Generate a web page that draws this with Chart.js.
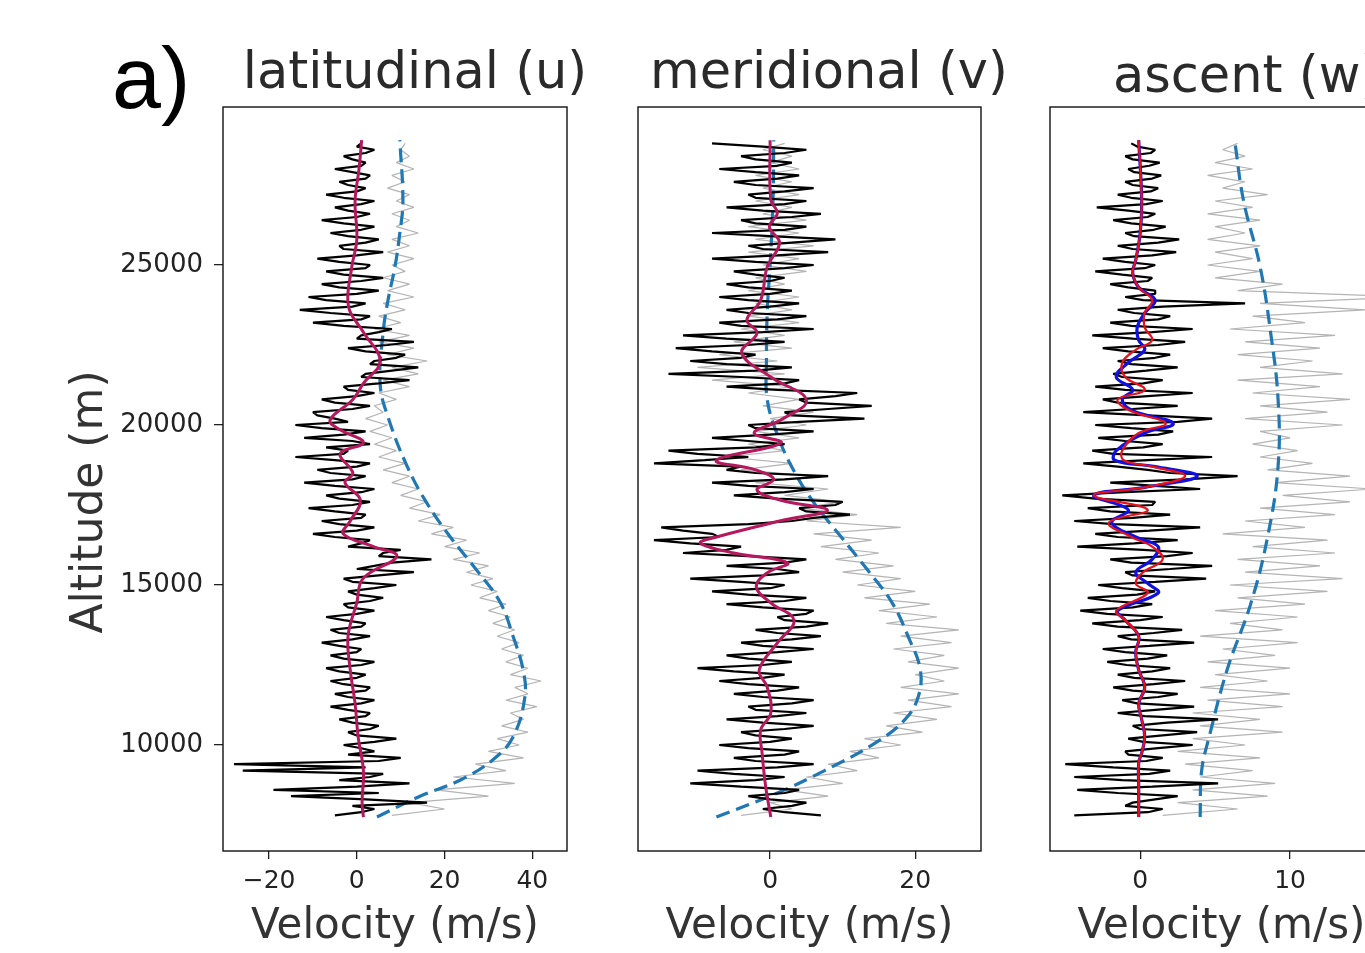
<!DOCTYPE html>
<html>
<head>
<meta charset="utf-8">
<title>Velocity profiles</title>
<script src="https://cdn.jsdelivr.net/npm/chart.js@4.4.1/dist/chart.umd.min.js"></script>
<style>
  html, body { margin: 0; padding: 0; background: #fff; overflow: hidden; }
  #wrap { position: relative; width: 1365px; height: 953px; overflow: hidden; }
  canvas { position: absolute; top: 0; }
</style>
</head>
<body>
<div id="wrap">
  <canvas id="panelU" width="600" height="953" style="left:0px"></canvas>
  <canvas id="panelV" width="410" height="953" style="left:600px"></canvas>
  <canvas id="panelW" width="400" height="953" style="left:1010px"></canvas>
</div>
<script>
// altitude samples (m) for the perturbation profiles, bottom to top
const pertAltitudes = [
  7800, 7900, 8000, 8100, 8200, 8300, 8400, 8500, 8600, 8700,
  8800, 8900, 9000, 9100, 9200, 9300, 9400, 9500, 9600, 9700,
  9800, 9900, 10000, 10100, 10200, 10300, 10400, 10500, 10600, 10700,
  10800, 10900, 11000, 11100, 11200, 11300, 11400, 11500, 11600, 11700,
  11800, 11900, 12000, 12100, 12200, 12300, 12400, 12500, 12600, 12700,
  12800, 12900, 13000, 13100, 13200, 13300, 13400, 13500, 13600, 13700,
  13800, 13900, 14000, 14100, 14200, 14300, 14400, 14500, 14600, 14700,
  14800, 14900, 15000, 15100, 15200, 15300, 15400, 15500, 15600, 15700,
  15800, 15900, 16000, 16100, 16200, 16300, 16400, 16500, 16600, 16700,
  16800, 16900, 17000, 17100, 17200, 17300, 17400, 17500, 17600, 17700,
  17800, 17900, 18000, 18100, 18200, 18300, 18400, 18500, 18600, 18700,
  18800, 18900, 19000, 19100, 19200, 19300, 19400, 19500, 19600, 19700,
  19800, 19900, 20000, 20100, 20200, 20300, 20400, 20500, 20600, 20700,
  20800, 20900, 21000, 21100, 21200, 21300, 21400, 21500, 21600, 21700,
  21800, 21900, 22000, 22100, 22200, 22300, 22400, 22500, 22600, 22700,
  22800, 22900, 23000, 23100, 23200, 23300, 23400, 23500, 23600, 23700,
  23800, 23900, 24000, 24100, 24200, 24300, 24400, 24500, 24600, 24700,
  24800, 24900, 25000, 25100, 25200, 25300, 25400, 25500, 25600, 25700,
  25800, 25900, 26000, 26100, 26200, 26300, 26400, 26500, 26600, 26700,
  26800, 26900, 27000, 27100, 27200, 27300, 27400, 27500, 27600, 27700,
  27800, 27900, 28000, 28100, 28200, 28300, 28400, 28500, 28600, 28700,
  28800
];

// altitude samples (m) for the raw wind profiles
const rawAltitudes = [
  7800, 8000, 8200, 8400, 8600, 8800, 9000, 9200, 9400, 9600,
  9800, 10000, 10200, 10400, 10600, 10800, 11000, 11200, 11400, 11600,
  11800, 12000, 12200, 12400, 12600, 12800, 13000, 13200, 13400, 13600,
  13800, 14000, 14200, 14400, 14600, 14800, 15000, 15200, 15400, 15600,
  15800, 16000, 16200, 16400, 16600, 16800, 17000, 17200, 17400, 17600,
  17800, 18000, 18200, 18400, 18600, 18800, 19000, 19200, 19400, 19600,
  19800, 20000, 20200, 20400, 20600, 20800, 21000, 21200, 21400, 21600,
  21800, 22000, 22200, 22400, 22600, 22800, 23000, 23200, 23400, 23600,
  23800, 24000, 24200, 24400, 24600, 24800, 25000, 25200, 25400, 25600,
  25800, 26000, 26200, 26400, 26600, 26800, 27000, 27200, 27400, 27600,
  27800, 28000, 28200, 28400, 28600, 28800
];

// latitudinal (u): perturbation (black) and raw wind (grey)
const uPert = [
  -5, 1, 4, -1, 16, 2, -15, 5, -19, 0,
  12, -4, 3, 6, -26, 2, -28, 5, 10, -2,
  4, 1, -3, 4, 9, 0, -2, 3, 5, -1,
  -4, 2, 3, -2, -6, 1, 4, -2, -5, 2,
  3, -3, -6, 0, 2, -4, -7, 1, 4, -3,
  -6, 0, 1, -4, -8, -1, 3, -4, -6, 1,
  2, -3, -7, 0, 4, -2, -3, 3, 6, 0,
  -2, 4, 9, -1, -3, 5, 13, 0, 4, 8,
  17, 5, 6, 10, -2, 1, 3, -5, -10, 0,
  4, -4, -8, 1, 2, -5, -11, -1, 3, -4,
  -7, 1, 4, -5, -12, -1, 2, -6, -9, 0,
  3, -5, -14, -3, -2, -7, 3, -1, -12, -3,
  2, -8, -14, -2, -5, -9, -10, -1, 3, -5,
  -8, 0, 4, -2, -3, 5, 12, 1, 2, 8,
  14, 3, 4, 9, 11, 2, -2, 7, 13, 0,
  1, 5, 8, -3, -10, 1, 3, -6, -13, -1,
  2, -7, -11, 0, 5, -4, -8, 1, 6, -3,
  -7, 2, 3, -4, -9, 0, 6, -3, -4, 2,
  5, -2, -6, 1, 4, -3, -8, 0, 3, -2,
  -5, 1, 4, -3, -7, 0, 2, -2, -4, 2,
  3, -1, -5, 1, 2, -1, -3, 2, 4, 0,
  1
];
const uRaw = [
  8, 20, 12, 30, 18, 36, 22, 34, 27, 38,
  30, 37, 32, 39, 33, 38, 35, 41, 34, 39,
  36, 42, 35, 39, 34, 38, 33, 37, 32, 36,
  31, 35, 30, 34, 28, 32, 26, 31, 25, 30,
  22, 28, 20, 25, 17, 22, 14, 19, 12, 16,
  10, 14, 8, 12, 6, 11, 5, 9, 4, 8,
  3, 7, 2, 6, 4, 9, 5, 12, 6, 14,
  8, 16, 7, 13, 5, 12, 4, 10, 5, 11,
  6, 13, 7, 12, 6, 11, 8, 13, 7, 12,
  8, 14, 9, 12, 8, 13, 9, 12, 7, 11,
  8, 13, 9, 12, 10, 11
];

// meridional (v)
const vPert = [
  7, 2, -1, 3, 5, 0, -3, 2, 4, -4,
  -11, -2, 2, -5, -10, 1, 6, -2, -5, 2,
  4, -3, -7, 0, 3, -2, -4, 2, 6, -1,
  -6, 1, 5, -2, -3, 3, 6, -1, -5, 1,
  4, -3, -7, -1, 2, -5, -10, -1, 3, -3,
  -6, 1, 6, -1, -4, 3, 7, 1, -2, 5,
  8, 2, 1, 5, 6, -1, -6, 2, 5, -3,
  -8, 0, 2, -4, -11, -1, 4, 1, -6, 2,
  5, -3, -12, -6, -4, -11, -16, -7, -8, -12,
  -15, -3, 3, 6, 11, 5, 4, 9, 10, 1,
  -5, 2, 6, -3, -8, 2, 8, -2, -6, -4,
  -16, -9, -3, -10, -14, -2, 2, -3, -8, 0,
  6, -2, -3, 4, 13, 3, 2, 8, 14, 5,
  4, 9, 12, 1, -6, 2, 4, -4, -14, -2,
  3, -6, -11, -4, -2, -8, -13, -3, 2, -6,
  -12, -1, 6, -4, -7, 1, 5, -3, -6, 0,
  4, -3, -7, 0, 3, -3, -6, 0, 2, -2,
  -5, 2, 6, -2, -8, 1, 8, -1, -3, 3,
  9, 0, -8, 2, 5, -2, -4, 3, 7, -1,
  -6, 2, 5, -2, -3, 2, 6, -2, -5, 1,
  4, -2, -7, 1, 3, -2, -4, 2, 5, -1,
  -8
];
const vRaw = [
  -4, 3, 0, 8, 2, 10, 5, 12, 8, 15,
  11, 18, 13, 21, 16, 23, 17, 25, 19, 26,
  18, 24, 20, 26, 19, 24, 17, 25, 18, 26,
  16, 23, 15, 22, 13, 20, 12, 18, 10, 17,
  9, 15, 7, 14, 6, 18, 5, 12, 4, 10,
  2, 8, -2, 6, -4, 3, -6, 2, -3, 4,
  -2, 5, 0, 6, -1, 4, -3, 3, -8, 2,
  -10, 1, -7, 3, -5, 2, -4, 4, -3, 3,
  -2, 4, -3, 2, -2, 5, -1, 4, -3, 6,
  -2, 4, -3, 5, -1, 3, -2, 4, -1, 3,
  -2, 4, 0, 3, -1, 2
];

// ascent (w)
const wPert = [
  -4.4, 0.5, 1.5, -1.0, -0.5, 1.0, 2.5, -1.5, -4.2, 0.8,
  5.2, -1.2, -4.4, 0.6, 2.0, -1.8, -5.0, 0.4, 1.5, -0.8,
  -1.0, 1.2, 3.5, 0.2, -0.8, 1.5, 3.8, 0.0, -0.5, 1.8,
  5.2, 0.3, -1.5, 1.0, 3.6, -0.2, -1.2, 1.2, 2.5, -0.5,
  -1.8, 0.9, 3.0, -0.4, -1.5, 0.8, 2.0, -0.9, -2.2, 0.5,
  1.8, -1.0, -2.5, 0.6, 3.6, -0.6, -1.5, 0.9, 2.8, -1.5,
  -3.2, 0.0, 1.5, -2.2, -4.0, -0.5, 0.8, -2.0, -3.5, -0.2,
  1.0, -1.2, -2.8, 1.0, 4.4, -0.5, -1.0, 2.0, 4.8, -0.6,
  -2.0, 1.8, 3.5, 0.2, -4.2, -0.4, 2.5, -1.5, -3.0, 0.6,
  4.0, -1.8, -4.4, -0.5, 2.0, -2.0, -3.5, 0.8, 1.0, -3.0,
  -5.2, -1.0, 4.0, 1.0, -2.0, 3.0, 6.5, 2.0, 0.5, -1.5,
  -3.8, 0.5, 4.8, -1.8, -3.2, 0.2, 1.5, -1.0, -2.8, 1.2,
  2.2, -0.6, -3.0, 2.5, 4.8, 0.5, -3.8, -0.5, 2.5, -1.5,
  -2.5, 0.5, 3.5, -1.0, -3.0, 0.2, 1.5, -1.2, -1.8, 0.4,
  2.5, -0.6, -1.5, 1.0, 2.0, -0.8, -2.5, 1.2, 3.0, -0.5,
  -3.2, 0.8, 3.5, -0.6, -2.0, 1.2, 2.0, -0.4, -1.5, 1.5,
  7.0, 0.2, -1.0, 1.0, 1.0, -0.8, -2.0, 0.5, 0.8, -1.2,
  -3.0, 0.3, 1.0, -1.0, -2.5, 0.8, 2.4, -0.5, -1.5, 1.2,
  2.6, -0.4, -1.0, 0.9, 1.7, -0.6, -1.8, 0.5, 1.0, -0.8,
  -2.9, 0.4, 1.5, -0.6, -1.5, 0.7, 1.2, -0.5, -1.0, 0.8,
  1.4, -0.4, -0.8, 0.6, 1.3, -0.5, -1.0, 0.7, 1.0, -0.2,
  -0.6
];
const wRaw = [
  1.5, 6.5, 2.5, 8.5, 3.5, 9.0, 4.0, 7.5, 3.0, 8.0,
  2.5, 7.0, 3.5, 9.5, 4.0, 8.0, 3.5, 9.5, 4.5, 10.0,
  4.0, 8.5, 5.0, 10.0, 4.5, 9.0, 5.5, 10.5, 4.0, 9.5,
  6.0, 10.5, 5.0, 11.0, 6.5, 12.5, 6.0, 13.5, 7.0, 12.0,
  6.5, 13.0, 7.5, 12.5, 5.5, 11.0, 7.0, 13.0, 8.0, 14.0,
  9.5, 15.5, 9.0, 14.0, 8.5, 11.5, 8.0, 10.5, 7.5, 10.0,
  8.0, 13.5, 7.0, 12.5, 8.0, 14.0, 7.5, 12.0, 6.5, 13.5,
  8.0, 11.5, 6.5, 12.0, 7.0, 13.0, 6.0, 11.0, 7.5, 15.0,
  8.0, 18.0, 6.5, 9.5, 5.0, 8.0, 4.5, 7.5, 5.0, 8.0,
  4.5, 7.0, 5.0, 8.0, 4.5, 7.5, 5.0, 8.5, 5.5, 7.0,
  4.5, 7.5, 5.0, 7.0, 5.5, 6.5
];

// smoothed perturbation profiles
const uSmoothAlt = [7750, 8200, 9200, 10250, 11300, 12350, 13400, 14450, 15200, 15900,
  16200, 16600, 17000, 17650, 18200, 18500, 19100, 19450, 19850, 20150,
  20800, 21300, 22000, 22900, 23700, 24900, 25800, 27000, 28000, 28900];
const uSmooth = [1.5, 1.2, 1.5, 0.3, -0.4, -1.5, -2.0, 0.0, 1.4, 9.1,
  3.8, -3.1, -1.5, 0.8, -2.7, -0.9, -3.8, 1.5, -3.8, -6.1,
  -0.9, 1.5, 5.3, 1.5, -1.9, -1.2, 0.0, -0.4, 0.5, 1.1];

const vSmoothAlt = [7750, 8690, 9750, 10470, 11000, 11810, 12340, 13190, 13900, 14440,
  14940, 15380, 15690, 16000, 16310, 16500, 17030, 17340, 17650, 17970,
  18300, 18600, 18900, 19440, 19750, 20160, 20780, 21500, 22250, 22875,
  23280, 23900, 24940, 25690, 26190, 26625, 27030, 28900];
const vSmooth = [0.1, -0.6, -1.1, -1.3, 0.1, -0.4, -1.5, 1.0, 3.3, 0.1,
  -1.9, -0.4, 2.4, -5.0, -9.6, -7.4, 1.9, 7.9, 1.5, -1.8,
  0.5, -2.0, -7.4, 1.5, -2.2, 1.5, 5.0, 0.1, -3.9, -1.8,
  -3.2, -1.3, -0.4, 1.3, -0.1, 1.0, 0.1, 0.0];

const wSmoothAlt = [7750, 8700, 9450, 9750, 10250, 10800, 11300, 11800, 12350, 12900,
  13400, 13900, 14200, 14750, 15050, 15400, 15800, 16200, 16500, 16950,
  17350, 17800, 18050, 18400, 18700, 18900, 19200, 19750, 20050, 20450,
  20800, 21100, 21500, 21950, 22350, 22650, 23050, 23500, 23900, 24300,
  24750, 25150, 26000, 27000, 28900];
const wSmoothBlue = [-0.1, -0.1, -0.1, 0.1, 0.3, 0.1, -0.1, 0.3, -0.1, -0.3,
  -0.1, -1.0, -1.5, 1.2, 0.5, -0.3, 0.8, 1.2, -0.3, -1.9,
  -0.8, -3.1, 0.3, 3.8, 1.0, -1.7, -1.6, 0.3, 2.2, -0.5,
  -1.2, -0.5, -1.6, -0.8, 0.3, -0.1, -0.2, 0.3, 1.0, -0.1,
  -0.5, -0.3, 0.0, 0.1, -0.1];
const wSmoothRed = [-0.1, -0.1, -0.1, 0.1, 0.3, 0.1, -0.1, 0.3, -0.1, -0.3,
  -0.1, -1.0, -1.6, 0.5, -0.3, 0.2, 1.5, 0.8, -0.6, -2.1,
  0.5, -3.1, 0.3, 3.0, 0.8, -1.1, -1.2, -0.1, 1.7, -0.7,
  -1.5, 0.3, -1.0, -1.2, -0.3, 0.8, 0.3, 0.3, 0.8, -0.1,
  -0.5, -0.3, 0.0, 0.1, -0.1];

// background wind trends (dashed)
const uTrendAlt = [7750, 8400, 8900, 9550, 10250, 11500, 12350, 13400, 14450, 15450,
  16500, 17550, 18700, 20250, 21300, 22900, 23900, 24950, 26000, 27000, 28900];
const uTrend = [4.6, 14.4, 23.5, 31.1, 35.6, 38.3, 37.9, 35.6, 32.7, 27.4,
  21.3, 16.0, 11.5, 7.1, 5.3, 6.0, 7.1, 8.7, 9.8, 10.5, 9.8];

const vTrendAlt = [7750, 8500, 9200, 10050, 10800, 11500, 12350, 13400, 14450, 15450,
  16500, 17550, 18600, 19700, 20800, 22000, 23500, 25000, 27000, 28900];
const vTrend = [-7.4, 1.0, 7.5, 14.4, 18.6, 20.4, 20.7, 19.0, 16.8, 13.5,
  9.8, 6.1, 3.2, 1.0, -0.4, -0.5, -0.4, 0.0, 0.4, 0.5];

const wTrendAlt = [7750, 9200, 10250, 12350, 14450, 16500, 18700, 20800, 22900, 24950, 27000, 28900];
const wTrend = [4.0, 4.1, 4.6, 5.8, 7.4, 8.5, 9.2, 9.2, 8.7, 8.0, 6.9, 6.3];

const altTicks = [10000, 15000, 20000, 25000];
const FONT = 'DejaVu Sans';
const Y_MIN = 6688, Y_MAX = 29937;

function pts(alts, vals) {
  return vals.map((v, i) => ({ x: v, y: alts[i] }));
}

function rawLine(alts, vals, color, width) {
  return { data: pts(alts, vals), showLine: true, pointRadius: 0, borderColor: color,
    borderWidth: width, borderJoinStyle: 'bevel', tension: 0, fill: false };
}
function smoothLine(alts, vals, color, width, dash) {
  return { data: pts(alts, vals), showLine: true, pointRadius: 0, borderColor: color,
    borderWidth: width, tension: 0.4, borderDash: dash || [], fill: false };
}

// black frame round the plot area
const framePlugin = {
  id: 'frame',
  afterDraw(chart) {
    const { ctx, chartArea: a } = chart;
    ctx.save();
    ctx.strokeStyle = '#111';
    ctx.lineWidth = 1.4;
    ctx.strokeRect(a.left, a.top, a.right - a.left, a.bottom - a.top);
    ctx.restore();
  }
};

// free text (panel titles, panel letter, y label)
const textPlugin = {
  id: 'textLabels',
  afterDraw(chart, args, opts) {
    const ctx = chart.ctx;
    (opts.items || []).forEach(t => {
      ctx.save();
      ctx.translate(t.x, t.y);
      if (t.rotate) ctx.rotate(t.rotate);
      ctx.font = t.font;
      ctx.fillStyle = t.color || '#2a2a2a';
      ctx.textAlign = t.align || 'center';
      ctx.textBaseline = t.baseline || 'alphabetic';
      ctx.fillText(t.text, 0, 0);
      ctx.restore();
    });
  }
};

function makeChart(id, cfg) {
  const yScale = cfg.showY ? {
    type: 'linear', min: Y_MIN, max: Y_MAX,
    afterBuildTicks: s => { s.ticks = altTicks.map(v => ({ value: v })); },
    afterFit: s => { s.width = cfg.yWidth; },
    ticks: { font: { family: FONT, size: 26 }, color: '#222', padding: 11,
      callback: v => String(v) },
    grid: { drawOnChartArea: false, tickLength: 9, color: '#222', lineWidth: 1.3 },
    border: { display: false }
  } : { type: 'linear', min: Y_MIN, max: Y_MAX, display: false };

  return new Chart(document.getElementById(id), {
    type: 'scatter',
    data: { datasets: cfg.datasets },
    options: {
      responsive: false,
      animation: false,
      events: [],
      layout: { padding: cfg.padding },
      plugins: {
        legend: { display: false },
        tooltip: { enabled: false },
        textLabels: { items: cfg.labels }
      },
      scales: {
        x: {
          type: 'linear', min: cfg.xMin, max: cfg.xMax,
          afterBuildTicks: s => { s.ticks = cfg.xTicks.map(v => ({ value: v })); },
          afterFit: s => { s.height = 102; },
          ticks: { font: { family: FONT, size: 25 }, color: '#222', padding: 7, maxRotation: 0,
            callback: v => v < 0 ? '\u2212' + Math.abs(v) : String(v) },
          grid: { drawOnChartArea: false, tickLength: 8, color: '#222', lineWidth: 1.3 },
          border: { display: false },
          title: { display: true, text: 'Velocity (m/s)', color: '#333',
            font: { family: FONT, size: 42 }, padding: { top: 0, bottom: 1 } }
        },
        y: yScale
      }
    },
    plugins: [framePlugin, textPlugin]
  });
}

const titleFont = '51px "' + FONT + '"';
const DASH = [14, 7];

makeChart('panelU', {
  padding: { top: 107, right: 33, bottom: 0, left: 0 },
  showY: true, yWidth: 223,
  xMin: -30.5, xMax: 47.9, xTicks: [-20, 0, 20, 40],
  labels: [
    { text: 'a)', x: 112, y: 108, align: 'left', font: '88px "Liberation Sans"', color: '#000' },
    { text: 'latitudinal (u)', x: 415, y: 88, font: titleFont },
    { text: 'Altitude (m)', x: 91, y: 502, rotate: -Math.PI / 2, baseline: 'middle',
      font: '44px "' + FONT + '"', color: '#333' }
  ],
  datasets: [
    smoothLine(uSmoothAlt, uSmooth, '#b5185c', 3),
    rawLine(pertAltitudes, uPert, '#000', 2.2),
    smoothLine(uTrendAlt, uTrend, '#1f77b4', 3.2, DASH),
    rawLine(rawAltitudes, uRaw, '#b4b4b4', 1.2)
  ]
});

makeChart('panelV', {
  padding: { top: 107, right: 29, bottom: 0, left: 38 },
  showY: false,
  xMin: -18.2, xMax: 29.06, xTicks: [0, 20],
  labels: [
    { text: 'meridional (v)', x: 229, y: 88, font: titleFont }
  ],
  datasets: [
    smoothLine(vSmoothAlt, vSmooth, '#b5185c', 3),
    rawLine(pertAltitudes, vPert, '#000', 2.2),
    smoothLine(vTrendAlt, vTrend, '#1f77b4', 3.2, DASH),
    rawLine(rawAltitudes, vRaw, '#b4b4b4', 1.2)
  ]
});

makeChart('panelW', {
  padding: { top: 107, right: 17, bottom: 0, left: 40 },
  showY: false,
  xMin: -6.02, xMax: 16.87, xTicks: [0, 10],
  labels: [
    { text: 'ascent (w)', x: 103, y: 92, align: 'left', font: titleFont }
  ],
  datasets: [
    smoothLine(wSmoothAlt, wSmoothRed, '#e8101a', 2.2),
    smoothLine(wSmoothAlt, wSmoothBlue, '#1010e0', 3.2),
    rawLine(pertAltitudes, wPert, '#000', 2.2),
    smoothLine(wTrendAlt, wTrend, '#1f77b4', 3.2, DASH),
    rawLine(rawAltitudes, wRaw, '#b4b4b4', 1.2)
  ]
});
</script>
</body>
</html>
